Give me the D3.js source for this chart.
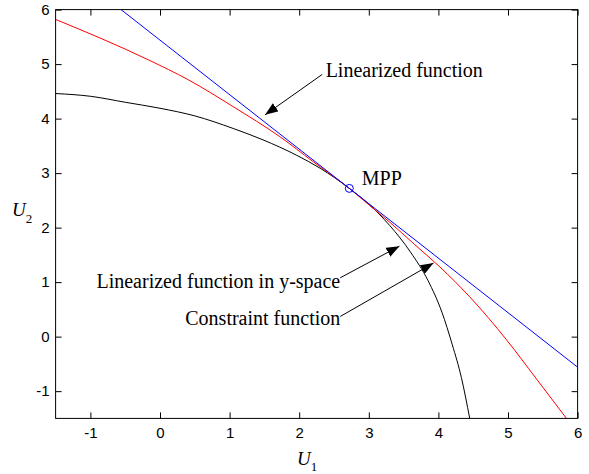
<!DOCTYPE html>
<html>
<head>
<meta charset="utf-8">
<script src="https://cdn.jsdelivr.net/npm/d3@7"></script>
<style>
  body { margin: 0; background: #fff; }
  svg { display: block; }
</style>
</head>
<body>
<div id="chart"></div>
<script>
// ticks
const xTicks = [-1, 0, 1, 2, 3, 4, 5, 6];
const yTicks = [-1, 0, 1, 2, 3, 4, 5, 6];

// constraint function (black)
const constraintX = [-1.5, -1.0, -0.5, 0.0, 0.5, 1.05, 1.48, 1.96, 2.30, 2.72, 3.0, 3.3, 3.6, 3.85, 4.05, 4.2, 4.33, 4.45];
const constraintY = [4.46, 4.41, 4.30, 4.19, 4.05, 3.82, 3.61, 3.33, 3.09, 2.72, 2.43, 2.04, 1.55, 1.03, 0.45, -0.15, -0.75, -1.5];

// linearized function in y-space (red)
const ySpaceX = [-1.5, -0.17, 0.41, 1.05, 1.72, 2.20, 2.72, 3.0, 3.3, 3.65, 4.02, 4.45, 4.98, 5.40, 5.84];
const ySpaceY = [5.82, 5.08, 4.71, 4.22, 3.67, 3.21, 2.72, 2.42, 2.10, 1.70, 1.28, 0.73, -0.06, -0.76, -1.5];

// linearized function (blue), straight line through the MPP
const linX = [-0.56, 6.0];
const linY = [6.0, -0.56];

const mpp = [2.72, 2.72];

// annotations: text anchor, arrow start, arrow tip (data coords)
const notes = [
  { text: 'Linearized function', tx: 2.38, ty: 4.77, anchor: 'start', from: [2.33, 4.81], to: [1.51, 4.07] },
  { text: 'Linearized function in y-space', tx: 2.59, ty: 0.89, anchor: 'end', from: [2.59, 1.08], to: [3.44, 1.66] },
  { text: 'Constraint function', tx: 2.59, ty: 0.215, anchor: 'end', from: [2.59, 0.37], to: [3.93, 1.35] }
];

const width = 589, height = 474;
const margin = { left: 55.6, right: 589 - 577.6, top: 9.6, bottom: 474 - 418.4 };

const svg = d3.select('#chart')
  .append('svg')
  .attr('width', width)
  .attr('height', height);

const x = d3.scaleLinear().domain([-1.5, 6]).range([margin.left, width - margin.right]);
const y = d3.scaleLinear().domain([-1.5, 6]).range([height - margin.bottom, margin.top]);

svg.append('defs').append('clipPath')
  .attr('id', 'plot-clip')
  .append('rect')
  .attr('x', x(-1.5)).attr('y', y(6))
  .attr('width', x(6) - x(-1.5)).attr('height', y(-1.5) - y(6));

svg.select('defs').append('marker')
  .attr('id', 'arrow')
  .attr('markerUnits', 'userSpaceOnUse')
  .attr('markerWidth', 14).attr('markerHeight', 10)
  .attr('refX', 13).attr('refY', 5)
  .attr('orient', 'auto')
  .append('path')
  .attr('d', 'M0,0 L13,5 L0,10 Z')
  .attr('fill', 'black');

const line = d3.line()
  .x(d => x(d[0]))
  .y(d => y(d[1]))
  .curve(d3.curveMonotoneX);

const curves = svg.append('g').attr('clip-path', 'url(#plot-clip)');

curves.append('path')
  .datum(d3.zip(constraintX, constraintY))
  .attr('d', line)
  .attr('fill', 'none')
  .attr('stroke', 'black')
  .attr('stroke-width', 1);

curves.append('path')
  .datum(d3.zip(ySpaceX, ySpaceY))
  .attr('d', line)
  .attr('fill', 'none')
  .attr('stroke', '#ff0000')
  .attr('stroke-width', 1);

curves.append('path')
  .datum(d3.zip(linX, linY))
  .attr('d', d3.line().x(d => x(d[0])).y(d => y(d[1])))
  .attr('fill', 'none')
  .attr('stroke', '#0000ff')
  .attr('stroke-width', 1);

// MPP marker
svg.append('circle')
  .attr('cx', x(mpp[0]))
  .attr('cy', y(mpp[1]))
  .attr('r', 4)
  .attr('fill', 'none')
  .attr('stroke', '#0000ff')
  .attr('stroke-width', 1);

svg.append('text')
  .text('MPP')
  .attr('x', x(2.90))
  .attr('y', y(2.78))
  .attr('font-family', '"Liberation Serif", "Times New Roman", serif')
  .attr('font-size', 20);

// annotations
const ann = svg.append('g').attr('class', 'notes');
notes.forEach(n => {
  ann.append('line')
    .attr('x1', x(n.from[0])).attr('y1', y(n.from[1]))
    .attr('x2', x(n.to[0])).attr('y2', y(n.to[1]))
    .attr('stroke', 'black')
    .attr('stroke-width', 1)
    .attr('marker-end', 'url(#arrow)');
  ann.append('text')
    .text(n.text)
    .attr('x', x(n.tx)).attr('y', y(n.ty))
    .attr('text-anchor', n.anchor)
    .attr('font-family', '"Liberation Serif", "Times New Roman", serif')
    .attr('font-size', 20);
});

// axes box with inward ticks
const fmt = d => String(d);
const axisFont = '"Liberation Sans", Arial, sans-serif';

function styleAxis(g) {
  g.select('.domain').remove();
  g.selectAll('.tick line').attr('stroke', 'black');
  g.selectAll('.tick text')
    .attr('font-family', axisFont)
    .attr('font-size', 15)
    .attr('fill', 'black');
}

svg.append('g')
  .attr('transform', `translate(0,${y(-1.5)})`)
  .call(d3.axisBottom(x).tickValues(xTicks).tickFormat(fmt).tickSizeInner(-6).tickPadding(9))
  .call(styleAxis);

svg.append('g')
  .attr('transform', `translate(0,${y(6)})`)
  .call(d3.axisTop(x).tickValues(xTicks).tickFormat('').tickSizeInner(-6))
  .call(styleAxis);

svg.append('g')
  .attr('transform', `translate(${x(-1.5)},0)`)
  .call(d3.axisLeft(y).tickValues(yTicks).tickFormat(fmt).tickSizeInner(-6).tickPadding(6))
  .call(styleAxis);

svg.append('g')
  .attr('transform', `translate(${x(6)},0)`)
  .call(d3.axisRight(y).tickValues(yTicks).tickFormat('').tickSizeInner(-6))
  .call(styleAxis);

svg.append('rect')
  .attr('x', x(-1.5)).attr('y', y(6))
  .attr('width', x(6) - x(-1.5)).attr('height', y(-1.5) - y(6))
  .attr('fill', 'none')
  .attr('stroke', 'black')
  .attr('stroke-width', 1);

// axis labels
const serif = '"Liberation Serif", "Times New Roman", serif';
const xl = svg.append('text')
  .attr('x', 297).attr('y', 465)
  .attr('font-family', serif)
  .attr('font-size', 19);
xl.append('tspan').attr('font-style', 'italic').text('U');
xl.append('tspan').attr('font-size', 13).attr('dy', 6).text('1');

const yl = svg.append('text')
  .attr('x', 12).attr('y', 216)
  .attr('font-family', serif)
  .attr('font-size', 19);
yl.append('tspan').attr('font-style', 'italic').text('U');
yl.append('tspan').attr('font-size', 13).attr('dy', 7).text('2');
</script>
</body>
</html>
